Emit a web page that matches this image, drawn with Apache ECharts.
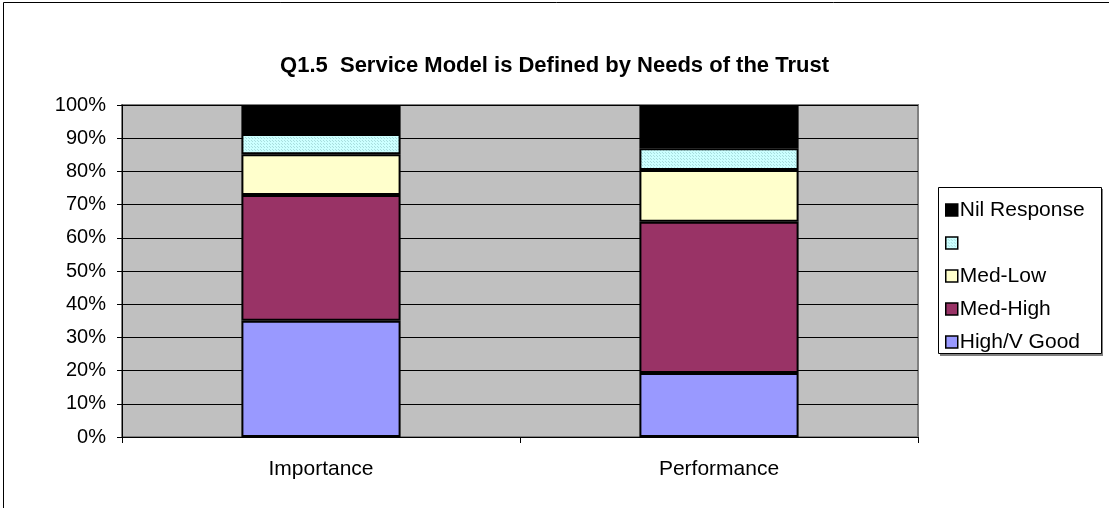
<!DOCTYPE html>
<html>
<head>
<meta charset="utf-8">
<script src="https://cdn.jsdelivr.net/npm/echarts@6/dist/echarts.min.js"></script>
<style>
html,body{margin:0;padding:0;background:#fff;}
#main{width:1109px;height:508px;}
</style>
</head>
<body>
<div id="main"></div>
<script>
var categories = ['Importance', 'Performance'];
var highVGood = [35.0, 19.3];
var medHigh = [37.9, 45.5];
var medLow = [12.3, 15.6];
var blankCat = [6.1, 6.6];
var nilResponse = [8.7, 13.0];
var yTicks = [0, 10, 20, 30, 40, 50, 60, 70, 80, 90, 100];

var pc = document.createElement('canvas');
pc.width = 3; pc.height = 3;
var pctx = pc.getContext('2d');
pctx.fillStyle = '#ccffff'; pctx.fillRect(0, 0, 3, 3);
pctx.fillStyle = '#a8dede'; pctx.fillRect(0, 0, 1, 1); pctx.fillRect(2, 2, 1, 1);
var cyanPattern = { image: pc, repeat: 'repeat' };

var font = '"Liberation Sans", Arial, sans-serif';
var chart = echarts.init(document.getElementById('main'), null, { renderer: 'canvas' });

function mk(name, data, color) {
  return {
    name: name, type: 'bar', stack: 'total', data: data, barWidth: '40%',
    itemStyle: { color: color, borderColor: '#000', borderWidth: 2 },
    emphasis: { disabled: true }
  };
}

chart.setOption({
  animation: false,
  backgroundColor: '#fff',
  title: {
    text: 'Q1.5  Service Model is Defined by Needs of the Trust',
    left: 'center', top: 50,
    textStyle: { fontFamily: font, fontWeight: 'bold', fontSize: 22, color: '#000' }
  },
  graphic: [
    { type: 'rect', shape: { x: 3.5, y: 2.5, width: 1200, height: 600 }, style: { fill: null, stroke: '#000', lineWidth: 1 }, silent: true, z: 100 },
    { type: 'rect', shape: { x: 940, y: 189, width: 163, height: 167 }, style: { fill: '#808080' }, silent: true, z: 0 },
    { type: 'rect', shape: { x: 938.5, y: 187.5, width: 163, height: 166 }, style: { fill: '#fff', stroke: '#000', lineWidth: 1 }, silent: true, z: 1 }
  ],
  legend: {
    orient: 'vertical', left: 940, top: 194,
    data: ['Nil Response', ' ', 'Med-Low', 'Med-High', 'High/V Good'],
    icon: 'rect', itemWidth: 12, itemHeight: 12, itemGap: 11,
    textStyle: { fontFamily: font, fontSize: 21, color: '#000', lineHeight: 22, padding: [0, 0, 0, -3] },
    itemStyle: { borderColor: '#000', borderWidth: 1.5 },
    z: 10
  },
  grid: {
    left: 122, right: 191, top: 105, bottom: 71,
    show: true, backgroundColor: '#c0c0c0', borderColor: '#808080', borderWidth: 2
  },
  xAxis: {
    type: 'category', data: categories, boundaryGap: true,
    axisLine: { lineStyle: { color: '#000', width: 1 } },
    axisTick: { show: true, alignWithLabel: false, length: 6, lineStyle: { color: '#000' } },
    axisLabel: { fontFamily: font, fontSize: 21, color: '#000', margin: 22 }
  },
  yAxis: {
    type: 'value', min: 0, max: 100, interval: 10,
    axisLine: { show: true, lineStyle: { color: '#000', width: 1 } },
    axisTick: { show: true, length: 5, lineStyle: { color: '#000' } },
    axisLabel: { fontFamily: font, fontSize: 20, color: '#000', margin: 16,
      formatter: function (v) { return yTicks.indexOf(v) >= 0 ? v + '%' : ''; } },
    splitLine: { show: true, lineStyle: { color: '#000', width: 1 } }
  },
  series: [
    mk('High/V Good', highVGood, '#9999ff'),
    mk('Med-High', medHigh, '#993366'),
    mk('Med-Low', medLow, '#ffffcc'),
    mk(' ', blankCat, cyanPattern),
    mk('Nil Response', nilResponse, '#000000')
  ]
});
</script>
</body>
</html>
